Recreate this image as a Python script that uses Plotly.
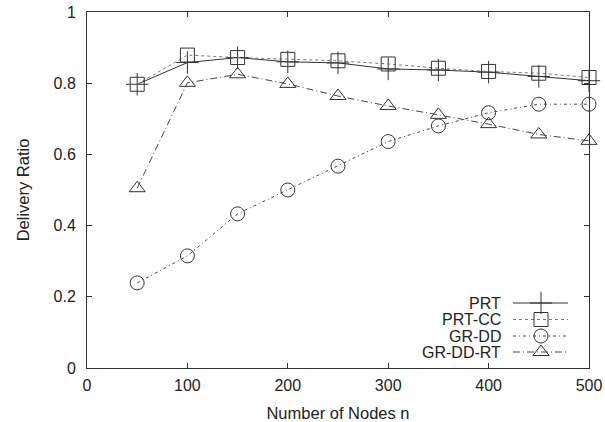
import plotly.graph_objects as go

nodes = [50, 100, 150, 200, 250, 300, 350, 400, 450, 500]
prt = [0.797, 0.858, 0.872, 0.860, 0.857, 0.840, 0.837, 0.831, 0.819, 0.807]
prt_cc = [0.797, 0.879, 0.872, 0.867, 0.863, 0.854, 0.842, 0.833, 0.828, 0.816]
gr_dd = [0.239, 0.315, 0.433, 0.500, 0.567, 0.636, 0.680, 0.717, 0.741, 0.741]
gr_dd_rt = [0.505, 0.801, 0.825, 0.798, 0.764, 0.736, 0.711, 0.685, 0.656, 0.638]

names = ["PRT", "PRT-CC", "GR-DD", "GR-DD-RT"]
series = [prt, prt_cc, gr_dd, gr_dd_rt]
x_ticks = [0, 100, 200, 300, 400, 500]
y_ticks = [0, 0.2, 0.4, 0.6, 0.8, 1]

styles = [
    dict(dash="solid", lcolor="#333333", symbol="cross-thin", mcolor="#333333", size=16),
    dict(dash="dot", lcolor="#777777", symbol="square-open", mcolor="#333333", size=14),
    dict(dash="3px,3px,1px,3px", lcolor="#444444", symbol="circle-open", mcolor="#333333", size=14),
    dict(dash="7px,3px,1px,3px", lcolor="#444444", symbol="triangle-up-open", mcolor="#333333", size=14),
]

FONT = "Liberation Sans, Arial, sans-serif"
fig = go.Figure()
for name, vals, st in zip(names, series, styles):
    fig.add_trace(go.Scatter(
        x=nodes, y=vals, mode="lines+markers", name=name, showlegend=False,
        line=dict(color=st["lcolor"], width=1, dash=st["dash"]),
        marker=dict(symbol=st["symbol"], size=st["size"], color=st["mcolor"],
                    line=dict(width=1, color=st["mcolor"])),
        cliponaxis=False,
    ))

# legend in gnuplot style (text left, sample right), on a pixel-like helper axis
row_y = [65, 48.5, 32, 16]
for name, st, ry in zip(names, styles, row_y):
    fig.add_trace(go.Scatter(
        x=[426, 481], y=[ry, ry], xaxis="x2", yaxis="y2", mode="lines",
        line=dict(color=st["lcolor"], width=1, dash=st["dash"]), showlegend=False,
        hoverinfo="skip"))
    fig.add_trace(go.Scatter(
        x=[454], y=[ry], xaxis="x2", yaxis="y2", mode="markers",
        marker=dict(symbol=st["symbol"], size=st["size"], color=st["mcolor"],
                    line=dict(width=1, color=st["mcolor"])),
        showlegend=False, hoverinfo="skip"))
    fig.add_annotation(x=416, y=ry, xref="x2", yref="y2", text=name, showarrow=False,
                       xanchor="right", yanchor="middle",
                       font=dict(family=FONT, size=16, color="#222222"))

axis_common = dict(showgrid=False, zeroline=False, showline=True, linecolor="#333333",
                   linewidth=1, mirror="ticks", ticks="inside", ticklen=5,
                   tickcolor="#333333", tickwidth=1, automargin=False,
                   ticklabeloverflow="allow",
                   tickfont=dict(family=FONT, size=16, color="#222222"))

fig.update_layout(
    width=605, height=422,
    margin=dict(l=87, r=16, t=12, b=54),
    plot_bgcolor="white", paper_bgcolor="white",
    xaxis=dict(range=[0, 500], tickvals=x_ticks, ticktext=[str(v) for v in x_ticks],
               title=dict(text="Number of Nodes n", standoff=14,
                          font=dict(family=FONT, size=16.5, color="#222222")),
               ticklabelstandoff=3,
               **axis_common),
    yaxis=dict(range=[0, 1], tickvals=y_ticks, ticktext=["0", "0.2", "0.4", "0.6", "0.8", "1"],
               title=dict(text="Delivery Ratio", standoff=19,
                          font=dict(family=FONT, size=16.5, color="#222222")),
               ticklabelstandoff=7,
               **axis_common),
    xaxis2=dict(range=[0, 502], overlaying="x", visible=False, fixedrange=True),
    yaxis2=dict(range=[0, 356], overlaying="y", visible=False, fixedrange=True),
    showlegend=False,
)

fig.write_html("out.html", config={"displayModeBar": False},
               post_script="document.body.style.margin='0';")
